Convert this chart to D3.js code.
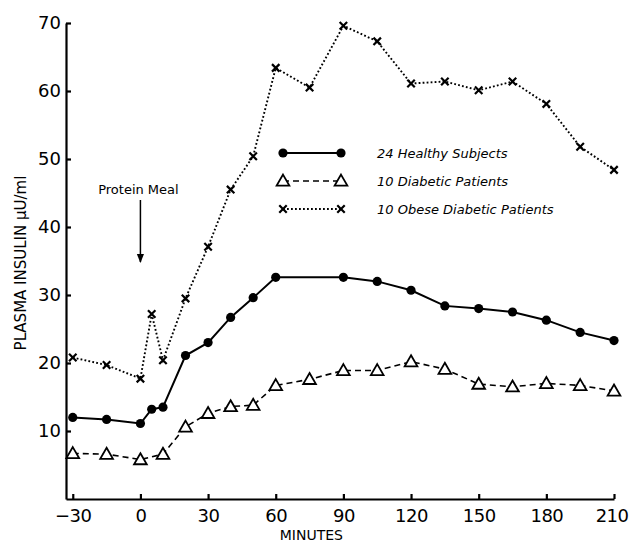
<!DOCTYPE html>
<html>
<head>
<meta charset="utf-8">
<script src="https://cdn.jsdelivr.net/npm/d3@7"></script>
<style>
  body { margin: 0; background: #fff; }
  svg { display: block; font-family: "DejaVu Sans", sans-serif; }
</style>
</head>
<body>
<svg id="chart" width="629" height="545"></svg>
<script>
// insulin response to a protein meal, three groups
var xTicks = [-30, 0, 30, 60, 90, 120, 150, 180, 210];
var yTicks = [10, 20, 30, 40, 50, 60, 70];

var healthyMin = [-30, -15, 0, 5, 10, 20, 30, 40, 50, 60, 90, 105, 120, 135, 150, 165, 180, 195, 210];
var healthyVal = [12.0, 11.7, 11.1, 13.2, 13.5, 21.1, 23.0, 26.7, 29.6, 32.6, 32.6, 32.0, 30.7, 28.4, 28.0, 27.5, 26.3, 24.5, 23.3];

var diabeticMin = [-30, -15, 0, 10, 20, 30, 40, 50, 60, 75, 90, 105, 120, 135, 150, 165, 180, 195, 210];
var diabeticVal = [6.7, 6.6, 5.8, 6.6, 10.6, 12.6, 13.6, 13.8, 16.7, 17.6, 18.9, 18.9, 20.2, 19.1, 16.9, 16.5, 17.0, 16.7, 15.9];

var obeseMin = [-30, -15, 0, 5, 10, 20, 30, 40, 50, 60, 75, 90, 105, 120, 135, 150, 165, 180, 195, 210];
var obeseVal = [20.8, 19.7, 17.7, 27.2, 20.4, 29.5, 37.1, 45.5, 50.4, 63.4, 60.5, 69.6, 67.3, 61.1, 61.4, 60.1, 61.4, 58.1, 51.8, 48.4];

var legendLabels = ['24 Healthy Subjects', '10 Diabetic Patients', '10 Obese Diabetic Patients'];

var svg = d3.select('#chart');
var x = d3.scaleLinear().domain([-33, 210]).range([66, 614]);
var y = d3.scaleLinear().domain([0, 70]).range([499, 23]);

var pack = function(mins, vals) {
    return mins.map(function(m, i) { return { t: m, v: vals[i] }; });
};
var series = [
    { name: legendLabels[0], pts: pack(healthyMin, healthyVal), kind: 'dot', dash: null, width: 2 },
    { name: legendLabels[1], pts: pack(diabeticMin, diabeticVal), kind: 'tri', dash: '6,4', width: 1.6 },
    { name: legendLabels[2], pts: pack(obeseMin, obeseVal), kind: 'x', dash: '1.8,2.2', width: 1.9 }
];

// axes, ticks point inward
var xAxis = svg.append('g').attr('transform', 'translate(0,' + y(0) + ')')
    .call(d3.axisBottom(x).tickValues(xTicks).tickSizeInner(-5).tickSizeOuter(0).tickPadding(8));
var yAxis = svg.append('g').attr('transform', 'translate(' + x(-33) + ',0)')
    .call(d3.axisLeft(y).tickValues(yTicks).tickSizeInner(-5).tickSizeOuter(0).tickPadding(5));
[xAxis, yAxis].forEach(function(a) {
    a.selectAll('path, line').attr('stroke', '#000').attr('stroke-width', 2.2);
    a.selectAll('text').attr('fill', '#000').style('font-size', '18px')
        .style('font-family', '"DejaVu Sans", sans-serif');
});
xAxis.selectAll('text').attr('dy', '0.85em').style('letter-spacing', '-0.5px');
// last label would run past the right edge, pin its end instead
xAxis.selectAll('.tick').filter(function(d) { return d === 210; }).select('text')
    .attr('text-anchor', 'end').attr('x', 14);

svg.append('text')
    .attr('transform', 'translate(26,' + (y(35) + 2) + ') rotate(-90)')
    .attr('text-anchor', 'middle')
    .style('font-size', '15px')
    .text('PLASMA INSULIN \u03bcU/ml');

svg.append('text')
    .attr('x', x(90) - 32).attr('y', 540)
    .attr('text-anchor', 'middle')
    .style('font-size', '14px')
    .text('MINUTES');

var drawMarker = function(sel, kind) {
    if (kind === 'dot') {
        sel.append('circle').attr('r', 4.6).attr('fill', '#000');
    } else if (kind === 'tri') {
        sel.append('path').attr('d', d3.symbol().type(d3.symbolTriangle).size(70))
            .attr('fill', '#fff').attr('stroke', '#000').attr('stroke-width', 1.8)
            .attr('transform', 'translate(0,1)');
    } else {
        sel.append('path').attr('d', d3.symbol().type(d3.symbolTimes).size(38))
            .attr('fill', 'none').attr('stroke', '#000').attr('stroke-width', 2.2);
    }
};

var line = d3.line().x(function(d) { return x(d.t); }).y(function(d) { return y(d.v); });

series.forEach(function(s) {
    svg.append('path').datum(s.pts)
        .attr('d', line)
        .attr('fill', 'none')
        .attr('stroke', '#000')
        .attr('stroke-width', s.width)
        .attr('stroke-dasharray', s.dash);
    svg.selectAll(null).data(s.pts).enter().append('g')
        .attr('transform', function(d) { return 'translate(' + x(d.t) + ',' + y(d.v) + ')'; })
        .each(function() { drawMarker(d3.select(this), s.kind); });
});

// legend
var legend = svg.append('g').attr('transform', 'translate(283,153)');
series.forEach(function(s, i) {
    var row = legend.append('g').attr('transform', 'translate(0,' + (i * 28) + ')');
    row.append('line').attr('x1', 0).attr('x2', 58).attr('y1', 0).attr('y2', 0)
        .attr('stroke', '#000').attr('stroke-width', s.width).attr('stroke-dasharray', s.dash);
    drawMarker(row.append('g'), s.kind);
    drawMarker(row.append('g').attr('transform', 'translate(58,0)'), s.kind);
    row.append('text').attr('x', 94).attr('y', 5)
        .style('font-size', '13px').style('font-style', 'italic')
        .text(s.name);
});

// protein meal arrow
svg.append('text').attr('x', x(0) - 2).attr('y', 194)
    .attr('text-anchor', 'middle').style('font-size', '13px')
    .text('Protein Meal');
svg.append('defs').append('marker').attr('id', 'arrow')
    .attr('viewBox', '0 0 10 10').attr('refX', 9).attr('refY', 5)
    .attr('markerWidth', 6).attr('markerHeight', 10).attr('orient', 'auto')
    .append('path').attr('d', 'M0,1 L10,5 L0,9 Z').attr('fill', '#000');
svg.append('line').attr('x1', x(0)).attr('x2', x(0)).attr('y1', 200).attr('y2', 262)
    .attr('stroke', '#000').attr('stroke-width', 1.5).attr('marker-end', 'url(#arrow)');
</script>
</body>
</html>
